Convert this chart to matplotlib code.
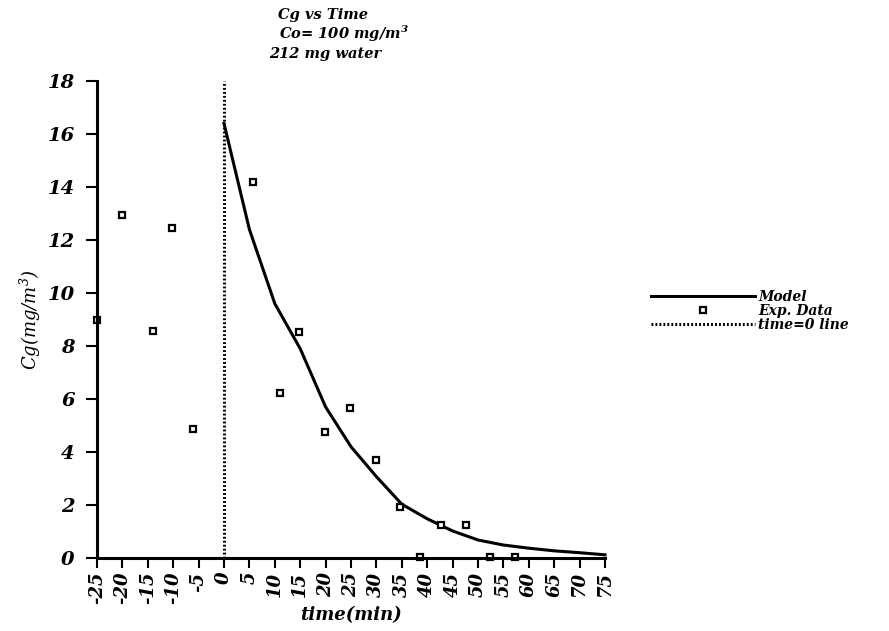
import matplotlib
matplotlib.use("Agg")
from matplotlib import pyplot as plt

plt.rcParams['font.family'] = ['DejaVu Serif']
plt.rcParams['mathtext.default'] = 'regular'

# model curve, every 5 min after the switch
model_t = [0, 5, 10, 15, 20, 25, 30, 35, 40, 45, 50, 55, 60, 65, 70, 75]
model_cg = [16.4, 12.4, 9.6, 7.9, 5.7, 4.2, 3.07, 2.03, 1.48, 1.02, 0.68, 0.49, 0.37, 0.27, 0.2, 0.12]

# measured points
exp_t = [-25, -20, -14, -10.2, -6.2, 5.8, 11.0, 14.8, 19.8, 24.8, 29.9, 34.7, 38.6, 42.7, 47.6, 52.4, 57.3]
exp_cg = [9.0, 12.95, 8.58, 12.47, 4.86, 14.18, 6.24, 8.52, 4.77, 5.65, 3.70, 1.91, 0.05, 1.25, 1.25, 0.05, 0.05]

xticks = list(range(-25, 80, 5))
yticks = list(range(0, 20, 2))

fig = plt.figure(figsize=(8.89, 6.31), dpi=100)
ax = fig.add_axes([97 / 889, 1 - 558 / 631, (605 - 97) / 889, (558 - 81) / 631])

ax.plot(model_t, model_cg, color='black', lw=2.2, label='Model', clip_on=False)
ax.plot(exp_t, exp_cg, ls='none', marker='s', ms=5, mfc='white', mec='black', mew=1.6,
        label='Exp. Data', clip_on=False)
ax.plot([0, 0], [0, 18], color='black', ls=(0, (0.6, 0.7)), lw=2.2, label='time=0 line',
        clip_on=False)

ax.set_xlim(-25, 75)
ax.set_ylim(0, 18)
ax.set_xticks(xticks)
ax.set_yticks(yticks)
ax.set_xticklabels([str(v) for v in xticks], rotation=90, fontsize=13,
                   fontweight='bold', fontstyle='italic')
ax.set_yticklabels([str(v) for v in yticks], fontsize=14,
                   fontweight='bold', fontstyle='italic')

for s in ['top', 'right']:
    ax.spines[s].set_visible(False)
for s in ['left', 'bottom']:
    ax.spines[s].set_linewidth(2.2)
ax.tick_params(axis='y', direction='out', length=8, width=1.5, pad=8)
ax.tick_params(axis='x', direction='out', length=7, width=1.5, pad=3)

ax.set_xlabel('time(min)', fontsize=13, fontweight='bold', fontstyle='italic', labelpad=1)
ax.set_ylabel('Cg(mg/m$^3$)', fontsize=13, fontstyle='italic', labelpad=3)

# three-line heading above the plot
fig.text(323 / 889, 1 - 19 / 631, 'Cg vs Time', ha='center', va='baseline',
         fontsize=10.5, fontweight='bold', fontstyle='italic')
fig.text(344 / 889, 1 - 39 / 631, 'Co= 100 mg/m$^3$', ha='center', va='baseline',
         fontsize=10.5, fontweight='bold', fontstyle='italic')
fig.text(325 / 889, 1 - 58 / 631, '212 mg water', ha='center', va='baseline',
         fontsize=10.5, fontweight='bold', fontstyle='italic')

leg = ax.legend(loc='center left', bbox_to_anchor=(651 / 889, 1 - 311 / 631),
                bbox_transform=fig.transFigure, frameon=False, borderpad=0,
                borderaxespad=0, handlelength=7.5, handletextpad=0.2,
                labelspacing=0.0, prop={'size': 10, 'weight': 'bold', 'style': 'italic'})

fig.savefig('out.png', dpi=100)
